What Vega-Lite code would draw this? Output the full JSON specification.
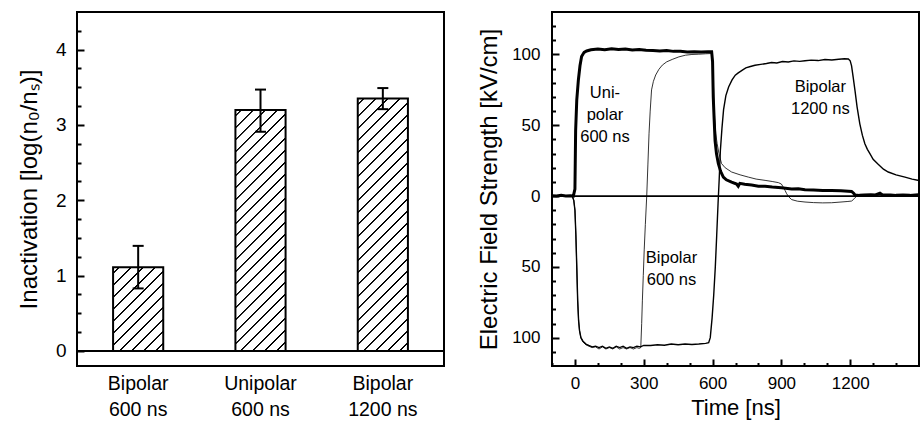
{
  "$schema": "https://vega.github.io/schema/vega-lite/v6.json",
  "background": "white",
  "padding": {"left": 16, "top": 11, "right": 0, "bottom": 0},
  "spacing": 30,
  "config": {
    "view": {"stroke": "black", "strokeWidth": 2},
    "axis": {"domain": false, "grid": false, "ticks": true, "tickColor": "black", "tickOpacity": 1, "labelColor": "black", "titleColor": "black", "titleFontWeight": "normal", "tickWidth": 2}
  },
  "hconcat": [
    {
      "width": 367,
      "height": 354,
      "resolve": {"axis": {"y": "independent"}},
      "data": {"values": [
        {"pulse": "Bipolar|600 ns", "value": 1.11, "lo": 0.83, "hi": 1.395},
        {"pulse": "Unipolar|600 ns", "value": 3.20, "lo": 2.91, "hi": 3.47},
        {"pulse": "Bipolar|1200 ns", "value": 3.35, "lo": 3.21, "hi": 3.49}
      ]},
      "layer": [
        {
          "mark": {"type": "bar", "width": {"band": 0.41}, "stroke": "black", "strokeWidth": 2},
          "encoding": {
            "x": {"field": "pulse", "type": "nominal", "sort": null, "scale": {"paddingInner": 0, "paddingOuter": 0},
              "axis": {"title": null, "ticks": false, "labelAngle": 0, "labelExpr": "split(datum.label, '|')", "labelFont": "Liberation Sans", "labelFontSize": 19.5, "labelLineHeight": 26.5, "labelPadding": 8}},
            "y": {"field": "value", "type": "quantitative", "scale": {"domain": [-0.2, 4.5], "nice": false, "zero": false},
              "axis": {"title": "Inactivation [log(n₀/nₛ)]", "titleFont": "Liberation Sans", "titleFontSize": 24, "titlePadding": 14,
                "values": [0, 1, 2, 3, 4], "format": "d", "offset": -7, "tickSize": 7, "tickColor": "black", "tickWidth": 2, "zindex": 1,
                "labelPadding": 11, "labelFont": "Liberation Sans", "labelFontSize": 19}},
            "fill": {
              "condition": [
                {"test": "datum.pulse === 'Bipolar|600 ns'", "value": {"gradient": "linear", "x1": 0, "y1": 0, "x2": 0.704, "y2": 1.177, "stops": [
                  {"offset": 0, "color": "white"},
                  {"offset": 0.0359, "color": "white"}, {"offset": 0.0412, "color": "black"}, {"offset": 0.0487, "color": "black"}, {"offset": 0.0539, "color": "white"},
                  {"offset": 0.1257, "color": "white"}, {"offset": 0.1310, "color": "black"}, {"offset": 0.1385, "color": "black"}, {"offset": 0.1437, "color": "white"},
                  {"offset": 0.2156, "color": "white"}, {"offset": 0.2208, "color": "black"}, {"offset": 0.2283, "color": "black"}, {"offset": 0.2335, "color": "white"},
                  {"offset": 0.3054, "color": "white"}, {"offset": 0.3106, "color": "black"}, {"offset": 0.3181, "color": "black"}, {"offset": 0.3234, "color": "white"},
                  {"offset": 0.3952, "color": "white"}, {"offset": 0.4004, "color": "black"}, {"offset": 0.4079, "color": "black"}, {"offset": 0.4132, "color": "white"},
                  {"offset": 0.4850, "color": "white"}, {"offset": 0.4903, "color": "black"}, {"offset": 0.4978, "color": "black"}, {"offset": 0.5030, "color": "white"},
                  {"offset": 0.5749, "color": "white"}, {"offset": 0.5801, "color": "black"}, {"offset": 0.5876, "color": "black"}, {"offset": 0.5928, "color": "white"},
                  {"offset": 0.6647, "color": "white"}, {"offset": 0.6699, "color": "black"}, {"offset": 0.6774, "color": "black"}, {"offset": 0.6826, "color": "white"},
                  {"offset": 0.7545, "color": "white"}, {"offset": 0.7597, "color": "black"}, {"offset": 0.7672, "color": "black"}, {"offset": 0.7725, "color": "white"},
                  {"offset": 0.8443, "color": "white"}, {"offset": 0.8496, "color": "black"}, {"offset": 0.8570, "color": "black"}, {"offset": 0.8623, "color": "white"},
                  {"offset": 0.9341, "color": "white"}, {"offset": 0.9394, "color": "black"}, {"offset": 0.9469, "color": "black"}, {"offset": 0.9521, "color": "white"},
                  {"offset": 1, "color": "white"}
                ]}},
                {"test": "datum.pulse === 'Unipolar|600 ns'", "value": {"gradient": "linear", "x1": 0, "y1": 0, "x2": 0.2402, "y2": 1.1577, "stops": [
                  {"offset": 0, "color": "white"},
                  {"offset": 0.0165, "color": "white"}, {"offset": 0.0189, "color": "black"}, {"offset": 0.0223, "color": "black"}, {"offset": 0.0247, "color": "white"},
                  {"offset": 0.0577, "color": "white"}, {"offset": 0.0601, "color": "black"}, {"offset": 0.0636, "color": "black"}, {"offset": 0.0660, "color": "white"},
                  {"offset": 0.0990, "color": "white"}, {"offset": 0.1014, "color": "black"}, {"offset": 0.1048, "color": "black"}, {"offset": 0.1072, "color": "white"},
                  {"offset": 0.1402, "color": "white"}, {"offset": 0.1426, "color": "black"}, {"offset": 0.1460, "color": "black"}, {"offset": 0.1485, "color": "white"},
                  {"offset": 0.1814, "color": "white"}, {"offset": 0.1838, "color": "black"}, {"offset": 0.1873, "color": "black"}, {"offset": 0.1897, "color": "white"},
                  {"offset": 0.2227, "color": "white"}, {"offset": 0.2251, "color": "black"}, {"offset": 0.2285, "color": "black"}, {"offset": 0.2309, "color": "white"},
                  {"offset": 0.2639, "color": "white"}, {"offset": 0.2663, "color": "black"}, {"offset": 0.2698, "color": "black"}, {"offset": 0.2722, "color": "white"},
                  {"offset": 0.3052, "color": "white"}, {"offset": 0.3076, "color": "black"}, {"offset": 0.3110, "color": "black"}, {"offset": 0.3134, "color": "white"},
                  {"offset": 0.3464, "color": "white"}, {"offset": 0.3488, "color": "black"}, {"offset": 0.3522, "color": "black"}, {"offset": 0.3546, "color": "white"},
                  {"offset": 0.3876, "color": "white"}, {"offset": 0.3900, "color": "black"}, {"offset": 0.3935, "color": "black"}, {"offset": 0.3959, "color": "white"},
                  {"offset": 0.4289, "color": "white"}, {"offset": 0.4313, "color": "black"}, {"offset": 0.4347, "color": "black"}, {"offset": 0.4371, "color": "white"},
                  {"offset": 0.4701, "color": "white"}, {"offset": 0.4725, "color": "black"}, {"offset": 0.4759, "color": "black"}, {"offset": 0.4784, "color": "white"},
                  {"offset": 0.5113, "color": "white"}, {"offset": 0.5137, "color": "black"}, {"offset": 0.5172, "color": "black"}, {"offset": 0.5196, "color": "white"},
                  {"offset": 0.5526, "color": "white"}, {"offset": 0.5550, "color": "black"}, {"offset": 0.5584, "color": "black"}, {"offset": 0.5608, "color": "white"},
                  {"offset": 0.5938, "color": "white"}, {"offset": 0.5962, "color": "black"}, {"offset": 0.5997, "color": "black"}, {"offset": 0.6021, "color": "white"},
                  {"offset": 0.6351, "color": "white"}, {"offset": 0.6375, "color": "black"}, {"offset": 0.6409, "color": "black"}, {"offset": 0.6433, "color": "white"},
                  {"offset": 0.6763, "color": "white"}, {"offset": 0.6787, "color": "black"}, {"offset": 0.6821, "color": "black"}, {"offset": 0.6845, "color": "white"},
                  {"offset": 0.7175, "color": "white"}, {"offset": 0.7199, "color": "black"}, {"offset": 0.7234, "color": "black"}, {"offset": 0.7258, "color": "white"},
                  {"offset": 0.7588, "color": "white"}, {"offset": 0.7612, "color": "black"}, {"offset": 0.7646, "color": "black"}, {"offset": 0.7670, "color": "white"},
                  {"offset": 0.8000, "color": "white"}, {"offset": 0.8024, "color": "black"}, {"offset": 0.8058, "color": "black"}, {"offset": 0.8082, "color": "white"},
                  {"offset": 0.8412, "color": "white"}, {"offset": 0.8436, "color": "black"}, {"offset": 0.8471, "color": "black"}, {"offset": 0.8495, "color": "white"},
                  {"offset": 0.8825, "color": "white"}, {"offset": 0.8849, "color": "black"}, {"offset": 0.8883, "color": "black"}, {"offset": 0.8907, "color": "white"},
                  {"offset": 0.9237, "color": "white"}, {"offset": 0.9261, "color": "black"}, {"offset": 0.9296, "color": "black"}, {"offset": 0.9320, "color": "white"},
                  {"offset": 0.9649, "color": "white"}, {"offset": 0.9674, "color": "black"}, {"offset": 0.9708, "color": "black"}, {"offset": 0.9732, "color": "white"},
                  {"offset": 1, "color": "white"}
                ]}},
                {"test": "datum.pulse === 'Bipolar|1200 ns'", "value": {"gradient": "linear", "x1": 0, "y1": 0, "x2": 0.2285, "y2": 1.1529, "stops": [
                  {"offset": 0, "color": "white"},
                  {"offset": 0.0159, "color": "white"}, {"offset": 0.0182, "color": "black"}, {"offset": 0.0215, "color": "black"}, {"offset": 0.0238, "color": "white"},
                  {"offset": 0.0556, "color": "white"}, {"offset": 0.0579, "color": "black"}, {"offset": 0.0612, "color": "black"}, {"offset": 0.0635, "color": "white"},
                  {"offset": 0.0953, "color": "white"}, {"offset": 0.0976, "color": "black"}, {"offset": 0.1009, "color": "black"}, {"offset": 0.1032, "color": "white"},
                  {"offset": 0.1350, "color": "white"}, {"offset": 0.1373, "color": "black"}, {"offset": 0.1406, "color": "black"}, {"offset": 0.1429, "color": "white"},
                  {"offset": 0.1747, "color": "white"}, {"offset": 0.1770, "color": "black"}, {"offset": 0.1803, "color": "black"}, {"offset": 0.1826, "color": "white"},
                  {"offset": 0.2144, "color": "white"}, {"offset": 0.2167, "color": "black"}, {"offset": 0.2200, "color": "black"}, {"offset": 0.2223, "color": "white"},
                  {"offset": 0.2541, "color": "white"}, {"offset": 0.2564, "color": "black"}, {"offset": 0.2597, "color": "black"}, {"offset": 0.2620, "color": "white"},
                  {"offset": 0.2937, "color": "white"}, {"offset": 0.2961, "color": "black"}, {"offset": 0.2994, "color": "black"}, {"offset": 0.3017, "color": "white"},
                  {"offset": 0.3334, "color": "white"}, {"offset": 0.3358, "color": "black"}, {"offset": 0.3391, "color": "black"}, {"offset": 0.3414, "color": "white"},
                  {"offset": 0.3731, "color": "white"}, {"offset": 0.3755, "color": "black"}, {"offset": 0.3788, "color": "black"}, {"offset": 0.3811, "color": "white"},
                  {"offset": 0.4128, "color": "white"}, {"offset": 0.4152, "color": "black"}, {"offset": 0.4185, "color": "black"}, {"offset": 0.4208, "color": "white"},
                  {"offset": 0.4525, "color": "white"}, {"offset": 0.4548, "color": "black"}, {"offset": 0.4582, "color": "black"}, {"offset": 0.4605, "color": "white"},
                  {"offset": 0.4922, "color": "white"}, {"offset": 0.4945, "color": "black"}, {"offset": 0.4979, "color": "black"}, {"offset": 0.5002, "color": "white"},
                  {"offset": 0.5319, "color": "white"}, {"offset": 0.5342, "color": "black"}, {"offset": 0.5375, "color": "black"}, {"offset": 0.5399, "color": "white"},
                  {"offset": 0.5716, "color": "white"}, {"offset": 0.5739, "color": "black"}, {"offset": 0.5772, "color": "black"}, {"offset": 0.5796, "color": "white"},
                  {"offset": 0.6113, "color": "white"}, {"offset": 0.6136, "color": "black"}, {"offset": 0.6169, "color": "black"}, {"offset": 0.6193, "color": "white"},
                  {"offset": 0.6510, "color": "white"}, {"offset": 0.6533, "color": "black"}, {"offset": 0.6566, "color": "black"}, {"offset": 0.6589, "color": "white"},
                  {"offset": 0.6907, "color": "white"}, {"offset": 0.6930, "color": "black"}, {"offset": 0.6963, "color": "black"}, {"offset": 0.6986, "color": "white"},
                  {"offset": 0.7304, "color": "white"}, {"offset": 0.7327, "color": "black"}, {"offset": 0.7360, "color": "black"}, {"offset": 0.7383, "color": "white"},
                  {"offset": 0.7701, "color": "white"}, {"offset": 0.7724, "color": "black"}, {"offset": 0.7757, "color": "black"}, {"offset": 0.7780, "color": "white"},
                  {"offset": 0.8098, "color": "white"}, {"offset": 0.8121, "color": "black"}, {"offset": 0.8154, "color": "black"}, {"offset": 0.8177, "color": "white"},
                  {"offset": 0.8495, "color": "white"}, {"offset": 0.8518, "color": "black"}, {"offset": 0.8551, "color": "black"}, {"offset": 0.8574, "color": "white"},
                  {"offset": 0.8892, "color": "white"}, {"offset": 0.8915, "color": "black"}, {"offset": 0.8948, "color": "black"}, {"offset": 0.8971, "color": "white"},
                  {"offset": 0.9289, "color": "white"}, {"offset": 0.9312, "color": "black"}, {"offset": 0.9345, "color": "black"}, {"offset": 0.9368, "color": "white"},
                  {"offset": 0.9686, "color": "white"}, {"offset": 0.9709, "color": "black"}, {"offset": 0.9742, "color": "black"}, {"offset": 0.9765, "color": "white"},
                  {"offset": 1, "color": "white"}
                ]}}
              ],
              "value": "white"
            }
          }
        },
        {
          "mark": {"type": "rule", "strokeWidth": 2, "color": "black"},
          "encoding": {
            "x": {"field": "pulse", "type": "nominal", "sort": null},
            "y": {"field": "lo", "type": "quantitative", "scale": {"domain": [-0.2, 4.5], "nice": false, "zero": false},
              "axis": {"orient": "left", "title": null, "labels": false, "offset": -4, "tickSize": 4, "tickColor": "black", "tickWidth": 2, "zindex": 1,
                "values": [0.25, 0.5, 0.75, 1.25, 1.5, 1.75, 2.25, 2.5, 2.75, 3.25, 3.5, 3.75, 4.25]}},
            "y2": {"field": "hi"}
          }
        },
        {
          "mark": {"type": "tick", "size": 11, "thickness": 2, "color": "black", "opacity": 1},
          "encoding": {
            "x": {"field": "pulse", "type": "nominal", "sort": null},
            "y": {"field": "lo", "type": "quantitative", "scale": {"domain": [-0.2, 4.5], "nice": false, "zero": false}, "axis": null}
          }
        },
        {
          "mark": {"type": "tick", "size": 11, "thickness": 2, "color": "black", "opacity": 1},
          "encoding": {
            "x": {"field": "pulse", "type": "nominal", "sort": null},
            "y": {"field": "hi", "type": "quantitative", "scale": {"domain": [-0.2, 4.5], "nice": false, "zero": false}, "axis": null}
          }
        },
        {
          "data": {"values": [{"zero": 0}]},
          "mark": {"type": "rule", "strokeWidth": 2, "color": "black"},
          "encoding": {"y": {"field": "zero", "type": "quantitative", "scale": {"domain": [-0.2, 4.5], "nice": false, "zero": false}, "axis": null}}
        }
      ]
    },
    {
      "width": 367,
      "height": 354,
      "resolve": {"axis": {"x": "independent", "y": "independent"}},
      "data": {"values": [
        {"s": "B1200", "t": -100, "v": 0}, {"s": "B1200", "t": -60, "v": 0.3}, {"s": "B1200", "t": -30, "v": 0}, {"s": "B1200", "t": -12, "v": 0},
        {"s": "B1200", "t": -5, "v": -3}, {"s": "B1200", "t": 0, "v": -10}, {"s": "B1200", "t": 4, "v": -27}, {"s": "B1200", "t": 8, "v": -50},
        {"s": "B1200", "t": 12, "v": -74}, {"s": "B1200", "t": 16, "v": -88}, {"s": "B1200", "t": 20, "v": -95}, {"s": "B1200", "t": 26, "v": -100},
        {"s": "B1200", "t": 35, "v": -102.5}, {"s": "B1200", "t": 48, "v": -104.5}, {"s": "B1200", "t": 60, "v": -105.5}, {"s": "B1200", "t": 75, "v": -106.5},
        {"s": "B1200", "t": 90, "v": -106}, {"s": "B1200", "t": 105, "v": -107}, {"s": "B1200", "t": 120, "v": -106}, {"s": "B1200", "t": 135, "v": -107.5},
        {"s": "B1200", "t": 150, "v": -106.5}, {"s": "B1200", "t": 165, "v": -107.5}, {"s": "B1200", "t": 180, "v": -106}, {"s": "B1200", "t": 195, "v": -107},
        {"s": "B1200", "t": 210, "v": -106}, {"s": "B1200", "t": 225, "v": -107.5}, {"s": "B1200", "t": 240, "v": -106.5}, {"s": "B1200", "t": 255, "v": -107},
        {"s": "B1200", "t": 270, "v": -106}, {"s": "B1200", "t": 285, "v": -106.5}, {"s": "B1200", "t": 300, "v": -105.5}, {"s": "B1200", "t": 330, "v": -105.5},
        {"s": "B1200", "t": 360, "v": -105}, {"s": "B1200", "t": 390, "v": -105.3}, {"s": "B1200", "t": 420, "v": -104.5}, {"s": "B1200", "t": 450, "v": -105},
        {"s": "B1200", "t": 480, "v": -104.5}, {"s": "B1200", "t": 510, "v": -104.8}, {"s": "B1200", "t": 540, "v": -104.5}, {"s": "B1200", "t": 570, "v": -104},
        {"s": "B1200", "t": 583, "v": -103.5}, {"s": "B1200", "t": 590, "v": -100}, {"s": "B1200", "t": 598, "v": -86}, {"s": "B1200", "t": 605, "v": -70},
        {"s": "B1200", "t": 612, "v": -50}, {"s": "B1200", "t": 618, "v": -28}, {"s": "B1200", "t": 624, "v": -5}, {"s": "B1200", "t": 629, "v": 12},
        {"s": "B1200", "t": 634, "v": 32}, {"s": "B1200", "t": 641, "v": 48}, {"s": "B1200", "t": 648, "v": 61}, {"s": "B1200", "t": 658, "v": 71},
        {"s": "B1200", "t": 670, "v": 77}, {"s": "B1200", "t": 685, "v": 82}, {"s": "B1200", "t": 699, "v": 85.4}, {"s": "B1200", "t": 712, "v": 87},
        {"s": "B1200", "t": 730, "v": 89}, {"s": "B1200", "t": 745, "v": 90.5}, {"s": "B1200", "t": 765, "v": 91.5}, {"s": "B1200", "t": 785, "v": 92.4},
        {"s": "B1200", "t": 810, "v": 93}, {"s": "B1200", "t": 835, "v": 93.6}, {"s": "B1200", "t": 857, "v": 94.3}, {"s": "B1200", "t": 880, "v": 94},
        {"s": "B1200", "t": 905, "v": 95}, {"s": "B1200", "t": 930, "v": 94.7}, {"s": "B1200", "t": 955, "v": 95.5}, {"s": "B1200", "t": 980, "v": 95.1},
        {"s": "B1200", "t": 1003, "v": 95.6}, {"s": "B1200", "t": 1030, "v": 96}, {"s": "B1200", "t": 1060, "v": 95.7}, {"s": "B1200", "t": 1090, "v": 96.5},
        {"s": "B1200", "t": 1120, "v": 96.1}, {"s": "B1200", "t": 1150, "v": 96.6}, {"s": "B1200", "t": 1175, "v": 97}, {"s": "B1200", "t": 1192, "v": 96.8},
        {"s": "B1200", "t": 1200, "v": 95.5}, {"s": "B1200", "t": 1206, "v": 92}, {"s": "B1200", "t": 1213, "v": 84}, {"s": "B1200", "t": 1221, "v": 74.5},
        {"s": "B1200", "t": 1230, "v": 63}, {"s": "B1200", "t": 1242, "v": 51}, {"s": "B1200", "t": 1253, "v": 43}, {"s": "B1200", "t": 1264, "v": 37},
        {"s": "B1200", "t": 1275, "v": 33}, {"s": "B1200", "t": 1286, "v": 30}, {"s": "B1200", "t": 1300, "v": 26}, {"s": "B1200", "t": 1322, "v": 22.5},
        {"s": "B1200", "t": 1345, "v": 19}, {"s": "B1200", "t": 1366, "v": 17}, {"s": "B1200", "t": 1400, "v": 15}, {"s": "B1200", "t": 1439, "v": 13.4},
        {"s": "B1200", "t": 1470, "v": 12}, {"s": "B1200", "t": 1500, "v": 11},

        {"s": "B600", "t": -100, "v": 0}, {"s": "B600", "t": -12, "v": 0}, {"s": "B600", "t": -5, "v": -3}, {"s": "B600", "t": 0, "v": -10},
        {"s": "B600", "t": 4, "v": -27}, {"s": "B600", "t": 8, "v": -50}, {"s": "B600", "t": 12, "v": -74}, {"s": "B600", "t": 16, "v": -88},
        {"s": "B600", "t": 20, "v": -95}, {"s": "B600", "t": 26, "v": -100}, {"s": "B600", "t": 35, "v": -103}, {"s": "B600", "t": 48, "v": -105},
        {"s": "B600", "t": 60, "v": -106}, {"s": "B600", "t": 75, "v": -107}, {"s": "B600", "t": 90, "v": -106.5}, {"s": "B600", "t": 105, "v": -108},
        {"s": "B600", "t": 120, "v": -106.5}, {"s": "B600", "t": 135, "v": -108}, {"s": "B600", "t": 150, "v": -107}, {"s": "B600", "t": 165, "v": -108},
        {"s": "B600", "t": 180, "v": -106.5}, {"s": "B600", "t": 195, "v": -108}, {"s": "B600", "t": 210, "v": -107}, {"s": "B600", "t": 225, "v": -108},
        {"s": "B600", "t": 240, "v": -107}, {"s": "B600", "t": 255, "v": -108}, {"s": "B600", "t": 270, "v": -107}, {"s": "B600", "t": 280, "v": -107.5},
        {"s": "B600", "t": 287, "v": -107}, {"s": "B600", "t": 291, "v": -90}, {"s": "B600", "t": 294, "v": -74}, {"s": "B600", "t": 298, "v": -56},
        {"s": "B600", "t": 302, "v": -38}, {"s": "B600", "t": 307, "v": -20}, {"s": "B600", "t": 313, "v": 0}, {"s": "B600", "t": 318, "v": 22},
        {"s": "B600", "t": 323, "v": 44}, {"s": "B600", "t": 328, "v": 60}, {"s": "B600", "t": 334, "v": 75}, {"s": "B600", "t": 342, "v": 81},
        {"s": "B600", "t": 352, "v": 85.5}, {"s": "B600", "t": 366, "v": 89.5}, {"s": "B600", "t": 381, "v": 92.5}, {"s": "B600", "t": 400, "v": 94.8},
        {"s": "B600", "t": 424, "v": 96.5}, {"s": "B600", "t": 453, "v": 98.3}, {"s": "B600", "t": 482, "v": 99.5}, {"s": "B600", "t": 510, "v": 100},
        {"s": "B600", "t": 540, "v": 100.2}, {"s": "B600", "t": 570, "v": 100.5}, {"s": "B600", "t": 598, "v": 100.7}, {"s": "B600", "t": 602, "v": 92},
        {"s": "B600", "t": 605, "v": 72}, {"s": "B600", "t": 609, "v": 55}, {"s": "B600", "t": 614, "v": 44}, {"s": "B600", "t": 620, "v": 37},
        {"s": "B600", "t": 628, "v": 30}, {"s": "B600", "t": 639, "v": 23}, {"s": "B600", "t": 655, "v": 20}, {"s": "B600", "t": 683, "v": 17},
        {"s": "B600", "t": 720, "v": 15}, {"s": "B600", "t": 756, "v": 13.4}, {"s": "B600", "t": 790, "v": 12}, {"s": "B600", "t": 829, "v": 11.1},
        {"s": "B600", "t": 860, "v": 10.3}, {"s": "B600", "t": 887, "v": 9.5}, {"s": "B600", "t": 900, "v": 8.5}, {"s": "B600", "t": 908, "v": 6.4},
        {"s": "B600", "t": 916, "v": 4}, {"s": "B600", "t": 923, "v": 1.7}, {"s": "B600", "t": 932, "v": -0.5}, {"s": "B600", "t": 945, "v": -2.5},
        {"s": "B600", "t": 970, "v": -3.6}, {"s": "B600", "t": 1003, "v": -4.2}, {"s": "B600", "t": 1040, "v": -4.6}, {"s": "B600", "t": 1080, "v": -4.8},
        {"s": "B600", "t": 1119, "v": -4.7}, {"s": "B600", "t": 1160, "v": -4.2}, {"s": "B600", "t": 1190, "v": -3.8}, {"s": "B600", "t": 1206, "v": -3.5},
        {"s": "B600", "t": 1214, "v": -2.5}, {"s": "B600", "t": 1221, "v": -1.1}, {"s": "B600", "t": 1230, "v": 0}, {"s": "B600", "t": 1300, "v": 0.2},
        {"s": "B600", "t": 1400, "v": 0.1}, {"s": "B600", "t": 1500, "v": 0.2},

        {"s": "U600", "t": -100, "v": 0.3}, {"s": "U600", "t": -80, "v": 0}, {"s": "U600", "t": -60, "v": 0.5}, {"s": "U600", "t": -40, "v": 0},
        {"s": "U600", "t": -20, "v": 0.3}, {"s": "U600", "t": -7, "v": 0}, {"s": "U600", "t": 0, "v": 5}, {"s": "U600", "t": 3, "v": 46},
        {"s": "U600", "t": 8, "v": 68}, {"s": "U600", "t": 15, "v": 82}, {"s": "U600", "t": 22, "v": 92}, {"s": "U600", "t": 29, "v": 98.5},
        {"s": "U600", "t": 40, "v": 101.5}, {"s": "U600", "t": 51, "v": 102.5}, {"s": "U600", "t": 70, "v": 103.3}, {"s": "U600", "t": 100, "v": 103.8},
        {"s": "U600", "t": 130, "v": 103.3}, {"s": "U600", "t": 160, "v": 104}, {"s": "U600", "t": 190, "v": 103.5}, {"s": "U600", "t": 220, "v": 103.8},
        {"s": "U600", "t": 250, "v": 103.2}, {"s": "U600", "t": 280, "v": 103.5}, {"s": "U600", "t": 310, "v": 103}, {"s": "U600", "t": 340, "v": 102.8},
        {"s": "U600", "t": 370, "v": 102.5}, {"s": "U600", "t": 400, "v": 102.8}, {"s": "U600", "t": 430, "v": 102.2}, {"s": "U600", "t": 460, "v": 102.3},
        {"s": "U600", "t": 490, "v": 101.8}, {"s": "U600", "t": 520, "v": 102}, {"s": "U600", "t": 550, "v": 101.8}, {"s": "U600", "t": 580, "v": 102},
        {"s": "U600", "t": 596, "v": 102}, {"s": "U600", "t": 600, "v": 95}, {"s": "U600", "t": 603, "v": 70}, {"s": "U600", "t": 607, "v": 54},
        {"s": "U600", "t": 611, "v": 39}, {"s": "U600", "t": 617, "v": 30}, {"s": "U600", "t": 625, "v": 23}, {"s": "U600", "t": 635, "v": 17.5},
        {"s": "U600", "t": 647, "v": 13.4}, {"s": "U600", "t": 660, "v": 11.5}, {"s": "U600", "t": 683, "v": 9.9}, {"s": "U600", "t": 705, "v": 8.5},
        {"s": "U600", "t": 712, "v": 7}, {"s": "U600", "t": 719, "v": 9}, {"s": "U600", "t": 740, "v": 8.3}, {"s": "U600", "t": 770, "v": 7.8},
        {"s": "U600", "t": 800, "v": 7}, {"s": "U600", "t": 829, "v": 7}, {"s": "U600", "t": 860, "v": 6.4}, {"s": "U600", "t": 900, "v": 5.8},
        {"s": "U600", "t": 945, "v": 5}, {"s": "U600", "t": 974, "v": 5.2}, {"s": "U600", "t": 1003, "v": 4.5}, {"s": "U600", "t": 1040, "v": 4.3},
        {"s": "U600", "t": 1080, "v": 4}, {"s": "U600", "t": 1119, "v": 3.9}, {"s": "U600", "t": 1160, "v": 3.7}, {"s": "U600", "t": 1206, "v": 3.3},
        {"s": "U600", "t": 1215, "v": 2}, {"s": "U600", "t": 1221, "v": 0.8}, {"s": "U600", "t": 1240, "v": 0.5}, {"s": "U600", "t": 1260, "v": 0.7},
        {"s": "U600", "t": 1290, "v": 1.0}, {"s": "U600", "t": 1310, "v": 0.8}, {"s": "U600", "t": 1330, "v": 2}, {"s": "U600", "t": 1340, "v": 1},
        {"s": "U600", "t": 1376, "v": 0.8}, {"s": "U600", "t": 1400, "v": 0.5}, {"s": "U600", "t": 1430, "v": 0.8}, {"s": "U600", "t": 1460, "v": 0.5},
        {"s": "U600", "t": 1497, "v": 0.9}
      ]},
      "layer": [
        {
          "transform": [{"filter": "datum.s === 'B1200'"}],
          "mark": {"type": "line", "color": "black", "strokeWidth": 1.4},
          "encoding": {
            "x": {"field": "t", "type": "quantitative", "scale": {"domain": [-100, 1500], "nice": false, "zero": false},
              "axis": {"title": "Time [ns]", "titleFont": "Liberation Sans", "titleFontSize": 22, "titlePadding": 6,
                "values": [0, 300, 600, 900, 1200], "format": "d", "offset": -7, "tickSize": 7, "tickColor": "black", "tickWidth": 2, "zindex": 1,
                "labelPadding": 9, "labelFont": "Liberation Sans", "labelFontSize": 17}},
            "y": {"field": "v", "type": "quantitative", "scale": {"domain": [-120, 130], "nice": false, "zero": false},
              "axis": {"title": "Electric Field Strength [kV/cm]", "titleFont": "Liberation Sans", "titleFontSize": 24, "titlePadding": 10,
                "values": [-100, -50, 0, 50, 100], "offset": -7, "tickSize": 7, "tickColor": "black", "tickWidth": 2, "zindex": 1,
                "labelExpr": "format(abs(datum.value), 'd')",
                "labelPadding": 12, "labelFont": "Liberation Sans", "labelFontSize": 17}}
          }
        },
        {
          "transform": [{"filter": "datum.s === 'B600'"}],
          "mark": {"type": "line", "color": "black", "strokeWidth": 0.8},
          "encoding": {
            "x": {"field": "t", "type": "quantitative", "scale": {"domain": [-100, 1500], "nice": false, "zero": false},
              "axis": {"orient": "bottom", "title": null, "labels": false, "offset": -3.5, "tickSize": 3.5, "tickColor": "black", "tickWidth": 2, "zindex": 1,
                "values": [-100, 100, 200, 400, 500, 700, 800, 1000, 1100, 1300, 1400]}},
            "y": {"field": "v", "type": "quantitative", "scale": {"domain": [-120, 130], "nice": false, "zero": false},
              "axis": {"orient": "left", "title": null, "labels": false, "offset": -3.5, "tickSize": 3.5, "tickColor": "black", "tickWidth": 2, "zindex": 1,
                "values": [-110, -90, -80, -70, -60, -40, -30, -20, -10, 10, 20, 30, 40, 60, 70, 80, 90, 110, 120]}}
          }
        },
        {
          "transform": [{"filter": "datum.s === 'U600'"}],
          "mark": {"type": "line", "color": "black", "strokeWidth": 3},
          "encoding": {
            "x": {"field": "t", "type": "quantitative", "scale": {"domain": [-100, 1500], "nice": false, "zero": false}, "axis": null},
            "y": {"field": "v", "type": "quantitative", "scale": {"domain": [-120, 130], "nice": false, "zero": false}, "axis": null}
          }
        },
        {
          "data": {"values": [{"zero": 0}]},
          "mark": {"type": "rule", "strokeWidth": 1.7, "color": "black"},
          "encoding": {"y": {"field": "zero", "type": "quantitative", "scale": {"domain": [-120, 130], "nice": false, "zero": false}, "axis": null}}
        },
        {
          "data": {"values": [
            {"t": 131, "v": 72.8, "label": "Uni-|polar|600 ns"},
            {"t": 421, "v": -43.7, "label": "Bipolar|600 ns"},
            {"t": 1070, "v": 77, "label": "Bipolar|1200 ns"}
          ]},
          "mark": {"type": "text", "lineBreak": "|", "lineHeight": 22, "font": "Liberation Sans", "fontSize": 16.5, "align": "center", "baseline": "middle", "color": "black"},
          "encoding": {
            "x": {"field": "t", "type": "quantitative", "scale": {"domain": [-100, 1500], "nice": false, "zero": false}, "axis": null},
            "y": {"field": "v", "type": "quantitative", "scale": {"domain": [-120, 130], "nice": false, "zero": false}, "axis": null},
            "text": {"field": "label", "type": "nominal"}
          }
        }
      ]
    }
  ]
}
